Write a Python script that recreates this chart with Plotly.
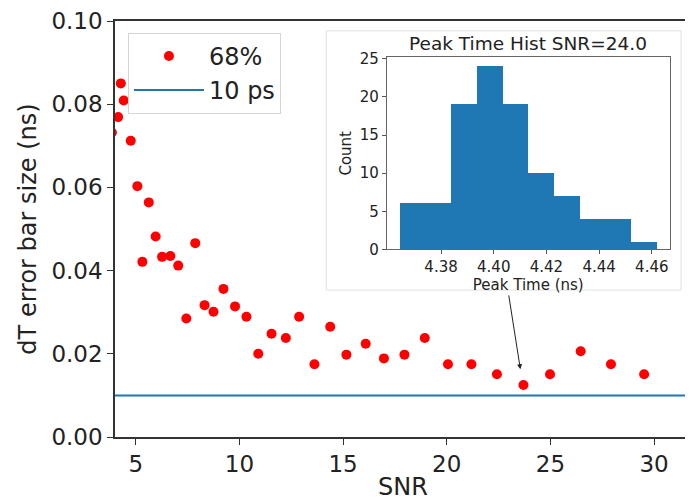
import plotly.graph_objects as go

# ---- main scatter data ----
snr = [3.85, 4.15, 4.28, 4.42, 4.76, 5.08, 5.32, 5.63, 5.96, 6.27, 6.67, 7.05, 7.44, 7.87,
       8.32, 8.75, 9.23, 9.79, 10.34, 10.91, 11.55, 12.24, 12.88, 13.62, 14.38, 15.16,
       16.09, 16.97, 17.96, 18.94, 20.06, 21.19, 22.42, 23.70, 24.98, 26.46, 27.92, 29.52]
err68 = [0.0732, 0.0769, 0.0850, 0.0809, 0.0712, 0.0603, 0.0421, 0.0564, 0.0482, 0.0433,
         0.0435, 0.0412, 0.0285, 0.0466, 0.0317, 0.0301, 0.0356, 0.0314, 0.0289, 0.0200,
         0.0248, 0.0238, 0.0289, 0.0175, 0.0265, 0.0198, 0.0224, 0.0189, 0.0198, 0.0238,
         0.0175, 0.0175, 0.0151, 0.0125, 0.0151, 0.0206, 0.0175, 0.0151]
ten_ps = 0.01
x_range = [4.0, 31.78]
y_range = [0.0, 0.10]
x_ticks = [5, 10, 15, 20, 25, 30]
y_ticks = [0.00, 0.02, 0.04, 0.06, 0.08, 0.10]

# ---- inset histogram data ----
bin_edges = [4.3643, 4.3741, 4.3838, 4.3936, 4.4034, 4.4131, 4.4229, 4.4326, 4.4424, 4.4521, 4.4619]
counts = [6, 6, 19, 24, 19, 10, 7, 4, 4, 1]
inset_x_ticks = [4.38, 4.40, 4.42, 4.44, 4.46]
inset_y_ticks = [0, 5, 10, 15, 20, 25]
inset_x_range = [4.3594, 4.4668]
inset_y_range = [0, 25.2]

# arrow (head at point, tail below inset)
arrow_head = (23.55, 0.0163)
arrow_tail = (22.98, 0.0344)

centers = [(bin_edges[i] + bin_edges[i + 1]) / 2 for i in range(len(counts))]
widths = [bin_edges[i + 1] - bin_edges[i] for i in range(len(counts))]

FONT = "DejaVu Sans"
fig = go.Figure()

fig.add_trace(go.Scatter(x=snr, y=err68, mode="markers", name="68%",
                         marker=dict(color="#ff0000", size=10), xaxis="x", yaxis="y"))
fig.add_trace(go.Scatter(x=[x_range[0] - 5, x_range[1] + 5], y=[ten_ps, ten_ps], mode="lines",
                         name="10 ps", line=dict(color="#1f77b4", width=2), xaxis="x", yaxis="y"))

fig.add_trace(go.Bar(x=centers, y=counts, width=widths, marker=dict(color="#1f77b4", line=dict(width=0)),
                     showlegend=False, xaxis="x2", yaxis="y2"))

# the page body has an 8px default margin; size the figure so the plot lands where the reference has it
fig.update_layout(
    width=685, height=493,
    margin=dict(l=107, r=0, t=7, b=64, pad=0),
    paper_bgcolor="white", plot_bgcolor="white",
    font=dict(family=FONT, color="#222"),
    showlegend=True,
    legend=dict(x=0.0225, y=0.9716, xanchor="left", yanchor="top",
                font=dict(size=24, family=FONT, color="#222"),
                bgcolor="white", bordercolor="#d5d5d5", borderwidth=1,
                itemwidth=70),
    bargap=0,
    xaxis=dict(range=x_range, tickvals=x_ticks, ticks="outside", ticklen=6, tickwidth=1.2,
               tickcolor="#333", tickfont=dict(size=23), showline=True, linecolor="#333",
               linewidth=1.5, mirror=True, showgrid=False, zeroline=False,
               ticklabeloverflow="allow",
               title=dict(text="SNR", font=dict(size=24), standoff=4)),
    yaxis=dict(range=y_range, tickvals=y_ticks, tickformat=".2f", ticks="outside", ticklen=6,
               tickwidth=1.2, tickcolor="#333", tickfont=dict(size=23), showline=True,
               linecolor="#333", linewidth=1.5, mirror=True, showgrid=False, zeroline=False,
               ticklabeloverflow="allow",
               title=dict(text="dT error bar size (ns)", font=dict(size=24), standoff=8)),
    xaxis2=dict(domain=[0.4718, 0.9631], anchor="y2", range=inset_x_range, tickvals=inset_x_ticks,
                tickformat=".2f", ticks="outside", ticklen=4, tickcolor="#555",
                tickfont=dict(size=15), showline=True, linecolor="#666", linewidth=1, mirror=True,
                showgrid=False, zeroline=False,
                title=dict(text="Peak Time (ns)", font=dict(size=15), standoff=2)),
    yaxis2=dict(domain=[0.4509, 0.9130], anchor="x2", range=inset_y_range, tickvals=inset_y_ticks,
                ticks="outside", ticklen=4, tickcolor="#555", tickfont=dict(size=15),
                showline=True, linecolor="#666", linewidth=1, mirror=True, showgrid=False,
                zeroline=False, title=dict(text="Count", font=dict(size=15), standoff=4)),
)

# inset background panel
fig.add_shape(type="rect", xref="paper", yref="paper", x0=0.3668, x1=0.9827, y0=0.3531, y1=0.9763,
              fillcolor="white", line=dict(color="#e2e2e2", width=1), layer="below")

fig.add_annotation(text="Peak Time Hist SNR=24.0", xref="x2 domain", yref="y2 domain", x=0.5, y=1.0,
                   xanchor="center", yanchor="bottom", yshift=1, showarrow=False,
                   font=dict(size=18.5, family=FONT, color="#222"))

fig.add_annotation(x=arrow_head[0], y=arrow_head[1], ax=arrow_tail[0], ay=arrow_tail[1],
                   xref="x", yref="y", axref="x", ayref="y", text="", showarrow=True,
                   arrowhead=2, arrowsize=1, arrowwidth=1, arrowcolor="#222")

fig.write_html("out.html")
